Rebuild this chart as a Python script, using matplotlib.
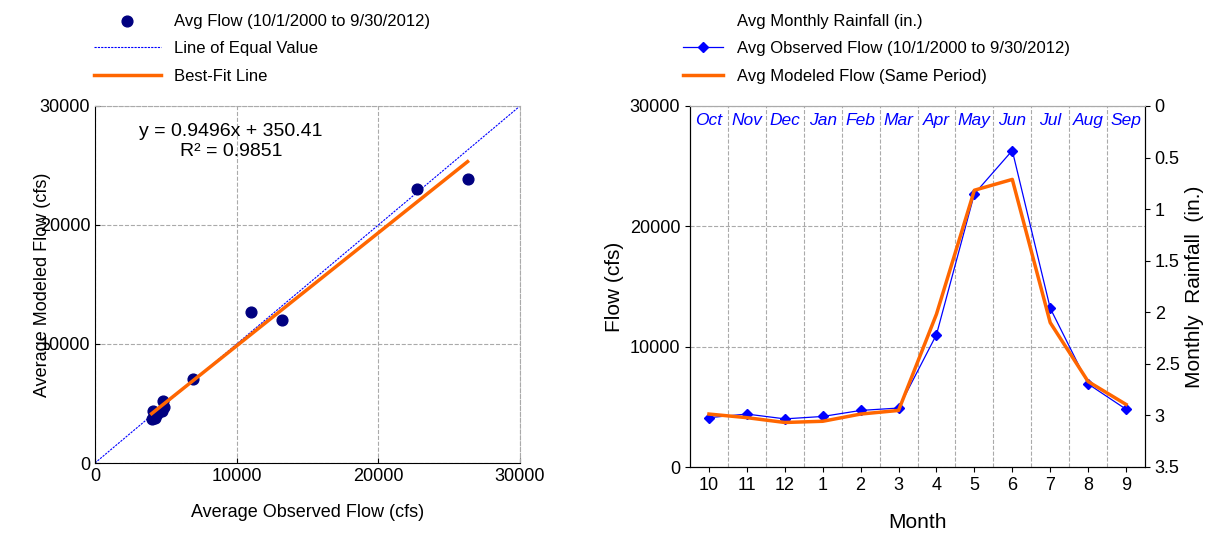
import numpy as np
import matplotlib.pyplot as plt

months = ["10", "11", "12", "1", "2", "3", "4", "5", "6", "7", "8", "9"]
month_names = ["Oct", "Nov", "Dec", "Jan", "Feb", "Mar", "Apr", "May", "Jun", "Jul", "Aug", "Sep"]
observed = [4100, 4400, 4000, 4200, 4700, 4900, 11000, 22700, 26300, 13200, 6900, 4800]
modeled = [4400, 4100, 3700, 3800, 4400, 4700, 12700, 23000, 23900, 12000, 7100, 5200]
slope, intercept = 0.9496, 350.41

plt.rcParams['font.family'] = ['Liberation Sans', 'DejaVu Sans']
fig = plt.figure(figsize=(12.25, 5.54), dpi=100)
W, H = 1225, 554

# left: scatter
ax1 = fig.add_axes([95 / W, 1 - 463 / H, 425 / W, 357 / H])
ax1.scatter(observed, modeled, s=60, color='#000080', zorder=3,
            label='Avg Flow (10/1/2000 to 9/30/2012)')
ax1.plot([0, 30000], [0, 30000], color='blue', ls='--', lw=0.8, dashes=(2, 1),
         label='Line of Equal Value')
xf = np.array([min(observed), max(observed)])
ax1.plot(xf, slope * xf + intercept, color='#ff6600', lw=2.5, label='Best-Fit Line', zorder=4)
ax1.set_xlim(0, 30000)
ax1.set_ylim(0, 30000)
ax1.set_xticks([0, 10000, 20000, 30000])
ax1.set_yticks([0, 10000, 20000, 30000])
ax1.grid(color='#aaaaaa', ls='--', lw=0.8)
ax1.tick_params(labelsize=13, direction='in')
ax1.set_xlabel('Average Observed Flow (cfs)', fontsize=13, labelpad=14)
ax1.set_ylabel('Average Modeled Flow (cfs)', fontsize=13, labelpad=-8)
for s in ['top', 'right']:
    ax1.spines[s].set_color('#aaaaaa')
    ax1.spines[s].set_linestyle('--')
ax1.text(0.32, 0.9, 'y = 0.9496x + 350.41\nR² = 0.9851', transform=ax1.transAxes,
         ha='center', va='center', fontsize=14)
ax1.legend(loc='lower left', bbox_to_anchor=(-0.03, 1.03), frameon=False, fontsize=12,
           handlelength=4, borderaxespad=0.3, labelspacing=0.75)

# right: monthly
ax2 = fig.add_axes([690 / W, 1 - 467 / H, 455 / W, 361 / H])
x = np.arange(len(months))
ax2.plot([], [], color='none', label='Avg Monthly Rainfall (in.)')
ax2.plot(x, observed, color='blue', lw=0.9, marker='D', ms=5,
         label='Avg Observed Flow (10/1/2000 to 9/30/2012)')
ax2.plot(x, modeled, color='#ff6600', lw=2.5, label='Avg Modeled Flow (Same Period)')
ax2.set_xlim(-0.5, 11.5)
ax2.set_ylim(0, 30000)
ax2.set_xticks(x)
ax2.set_xticklabels(months)
ax2.set_yticks([0, 10000, 20000, 30000])
ax2.set_xticks(np.arange(0.5, 11, 1), minor=True)
ax2.grid(axis='y', color='#aaaaaa', ls='--', lw=0.8)
ax2.grid(axis='x', which='minor', color='#aaaaaa', ls='--', lw=0.8)
ax2.tick_params(axis='x', which='minor', length=0)
ax2.tick_params(labelsize=13)
ax2.spines['top'].set_color('#aaaaaa')
ax2.set_xlabel('Month', fontsize=15, labelpad=14)
ax2.set_ylabel('Flow (cfs)', fontsize=15)
for i, n in enumerate(month_names):
    ax2.text(i, 28800, n, color='blue', style='italic', ha='center', va='center', fontsize=12.5)
ax2.legend(loc='lower left', bbox_to_anchor=(-0.04, 1.03), frameon=False, fontsize=12,
           handlelength=2.4, borderaxespad=0.3, labelspacing=0.75)

ax3 = ax2.twinx()
ax3.set_ylim(3.5, 0)
ax3.set_yticks([0, 0.5, 1, 1.5, 2, 2.5, 3, 3.5])
ax3.set_yticklabels(['0', '0.5', '1', '1.5', '2', '2.5', '3', '3.5'])
ax3.tick_params(labelsize=13)
ax3.set_ylabel('Monthly  Rainfall  (in.)', fontsize=15)
ax3.spines['top'].set_color('#aaaaaa')

fig.savefig('out.png', dpi=100)
